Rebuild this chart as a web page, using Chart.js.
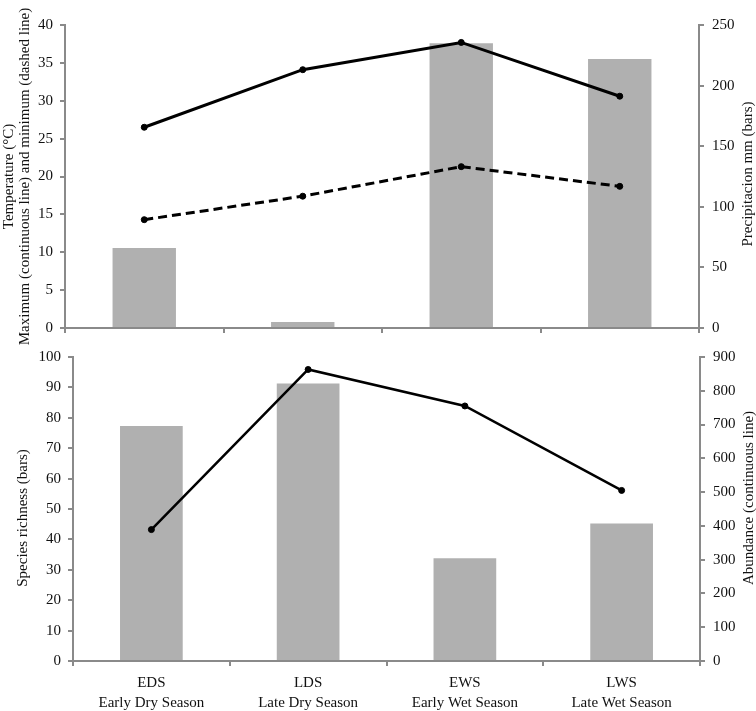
<!DOCTYPE html>
<html>
<head>
<meta charset="utf-8">
<script src="https://cdn.jsdelivr.net/npm/chart.js@4.4.1/dist/chart.umd.min.js"></script>
<style>
  html, body { margin: 0; padding: 0; background: #ffffff; }
  body { width: 756px; height: 711px; position: relative; overflow: hidden; }
  #top { position: absolute; left: 0; top: 0; }
  #bottom { position: absolute; left: 0; top: 340px; }
</style>
</head>
<body>
<canvas id="top" width="756" height="350"></canvas>
<canvas id="bottom" width="756" height="371"></canvas>
<script>
// ---- data ----
const categories = ['EDS', 'LDS', 'EWS', 'LWS'];
const seasonNames = ['Early Dry Season', 'Late Dry Season', 'Early Wet Season', 'Late Wet Season'];
const precipitation = [66, 5, 235, 222];
const maxTemp = [26.5, 34.1, 37.7, 30.6];
const minTemp = [14.3, 17.4, 21.3, 18.7];
const richness = [77.3, 91.3, 33.8, 45.2];
const abundance = [389, 863, 755, 505];

const tempTitle = ['Temperature (\u00B0C)', 'Maximum (continuous line) and minimum (dashed line)'];
const precipTitle = 'Precipitacion mm (bars)';
const richnessTitle = 'Species richness (bars)';
const abundanceTitle = 'Abundance (continuous line)';

// ---- styles ----
const FONT = "'Liberation Serif', 'Times New Roman', serif";
const AXIS = '#8a8a8a';
const BAR = '#b0b0b0';
const TXT = '#111111';

Chart.defaults.font.family = FONT;
Chart.defaults.color = TXT;

// vertical (bottom-to-top) axis titles placed beside an axis
function sideTitles(id, items) {
  return {
    id: id,
    afterDraw(chart) {
      const ctx = chart.ctx;
      items.forEach(it => {
        ctx.save();
        ctx.translate(it.x, it.y);
        ctx.rotate(-Math.PI / 2);
        ctx.font = '15px ' + FONT;
        ctx.fillStyle = TXT;
        ctx.textAlign = 'center';
        ctx.textBaseline = 'middle';
        ctx.fillText(it.text, 0, 0);
        ctx.restore();
      });
    }
  };
}

function yAxis(pos, min, max, step, width, padding, title, titlePad) {
  return {
    position: pos,
    min: min, max: max,
    afterFit: s => { s.width = width; },
    ticks: { stepSize: step, padding: padding, color: TXT, font: { size: 15, family: FONT } },
    grid: { drawOnChartArea: false, drawTicks: true, tickLength: 5, color: AXIS, lineWidth: 2 },
    border: { display: true, color: AXIS, width: 2 },
    title: title ? { display: true, text: title, color: TXT, font: { size: 15, family: FONT, lineHeight: 16 / 15 }, padding: { top: titlePad, bottom: 0 } } : { display: false }
  };
}

// ---- top chart ----
new Chart(document.getElementById('top'), {
  type: 'bar',
  data: {
    labels: categories,
    datasets: [
      { type: 'line', data: maxTemp, yAxisID: 'y', borderColor: '#000', borderWidth: 3,
        pointRadius: 3, pointBorderWidth: 1, pointBackgroundColor: '#000', pointBorderColor: '#000', order: 1 },
      { type: 'line', data: minTemp, yAxisID: 'y', borderColor: '#000', borderWidth: 3, borderDash: [9, 5],
        pointRadius: 3, pointBorderWidth: 1, pointBackgroundColor: '#000', pointBorderColor: '#000', order: 1 },
      { type: 'bar', data: precipitation, yAxisID: 'y1', backgroundColor: BAR, borderWidth: 0,
        barPercentage: 0.4, categoryPercentage: 1.0, order: 2 }
    ]
  },
  options: {
    responsive: false, animation: false, devicePixelRatio: 1,
    layout: { padding: { top: 25, bottom: 0, left: 0, right: 0 } },
    plugins: { legend: { display: false }, tooltip: { enabled: false } },
    scales: {
      x: {
        afterFit: s => { s.height = 22; },
        ticks: { display: false },
        grid: { offset: true, drawOnChartArea: false, drawTicks: true, tickLength: 5, color: AXIS, lineWidth: 2 },
        border: { display: true, color: AXIS, width: 2 }
      },
      y: yAxis('left', 0, 40, 5, 65, 7, tempTitle, 1),
      y1: yAxis('right', 0, 250, 50, 57, 8, null, 0)
    }
  },
  plugins: [sideTitles('topTitles', [{ text: precipTitle, x: 748, y: 174 }])]
});

// ---- bottom chart ----
new Chart(document.getElementById('bottom'), {
  type: 'bar',
  data: {
    labels: categories.map((c, i) => [c, seasonNames[i]]),
    datasets: [
      { type: 'line', data: abundance, yAxisID: 'y1', borderColor: '#000', borderWidth: 2.5,
        pointRadius: 3, pointBorderWidth: 1, pointBackgroundColor: '#000', pointBorderColor: '#000', order: 1 },
      { type: 'bar', data: richness, yAxisID: 'y', backgroundColor: BAR, borderWidth: 0,
        barPercentage: 0.4, categoryPercentage: 1.0, order: 2 }
    ]
  },
  options: {
    responsive: false, animation: false, devicePixelRatio: 1,
    layout: { padding: { top: 17, bottom: 0, left: 0, right: 0 } },
    plugins: { legend: { display: false }, tooltip: { enabled: false } },
    scales: {
      x: {
        afterFit: s => { s.height = 50; },
        ticks: { padding: 7, color: TXT, maxRotation: 0, autoSkip: false, font: { size: 15, family: FONT, lineHeight: 20 / 15 } },
        grid: { offset: true, drawOnChartArea: false, drawTicks: true, tickLength: 5, color: AXIS, lineWidth: 2 },
        border: { display: true, color: AXIS, width: 2 }
      },
      y: yAxis('left', 0, 100, 10, 73, 7, null, 0),
      y1: yAxis('right', 0, 900, 100, 56, 8, null, 0)
    }
  },
  plugins: [sideTitles('bottomTitles', [
    { text: richnessTitle, x: 23, y: 178 },
    { text: abundanceTitle, x: 749, y: 158 }
  ])]
});
</script>
</body>
</html>
